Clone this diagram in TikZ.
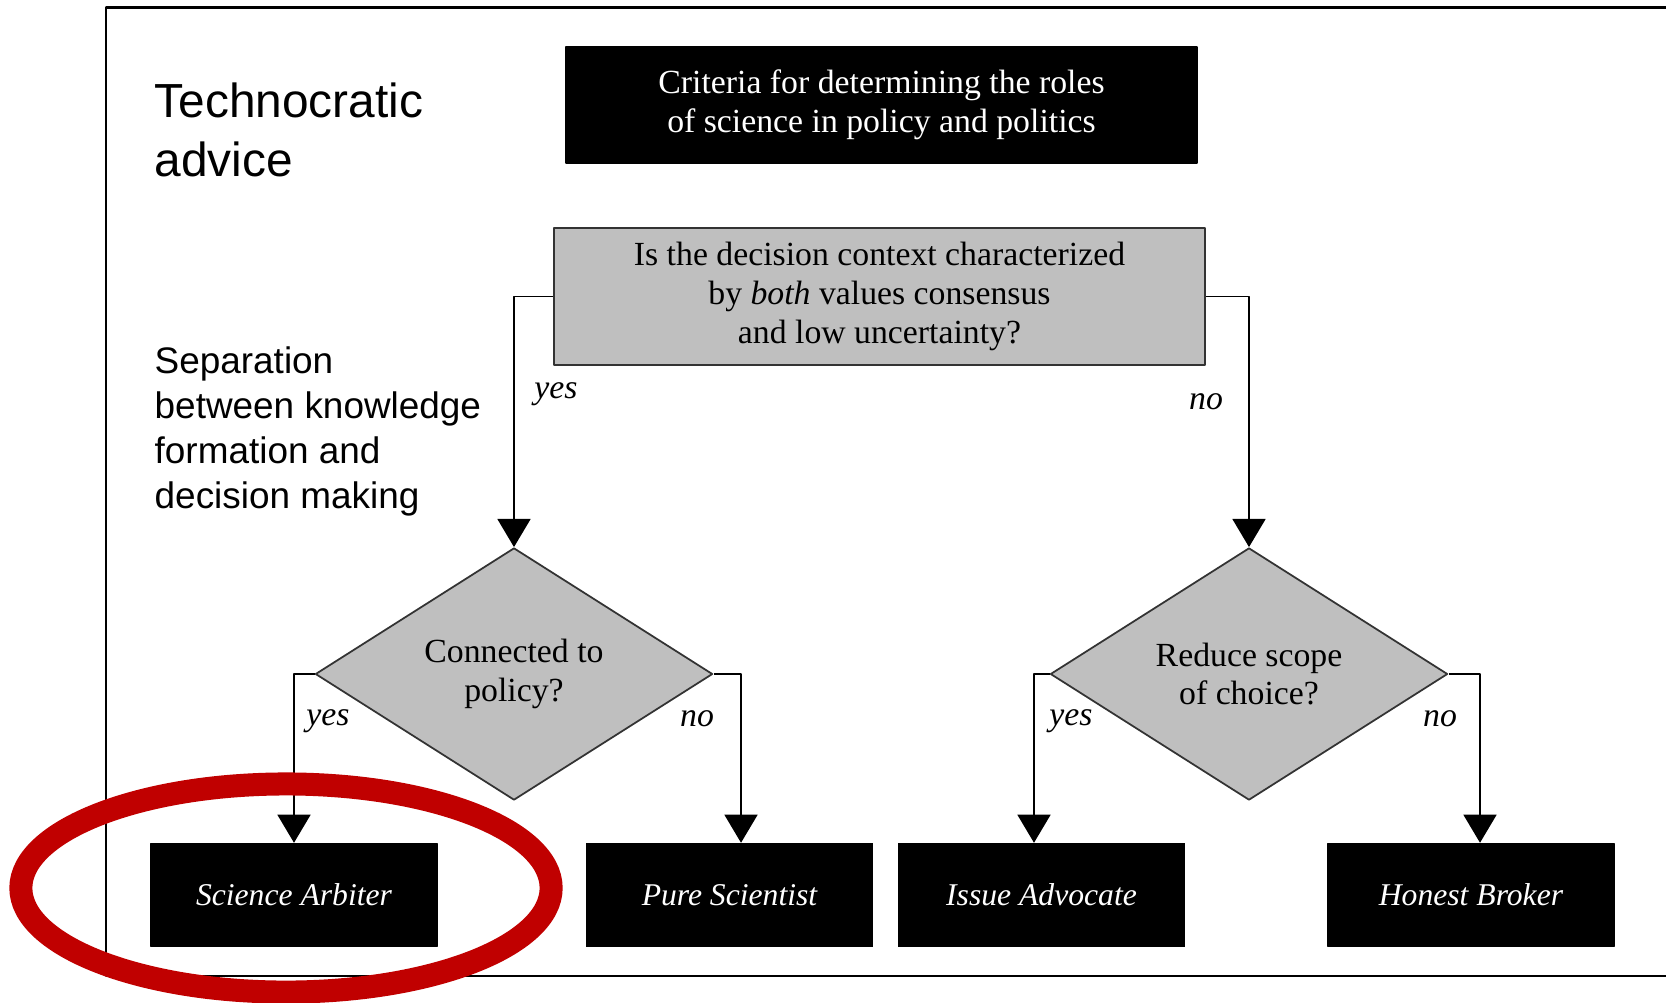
\documentclass[tikz,border=0pt]{standalone}
\usepackage{fontspec}
\setmainfont{Liberation Serif}
\newfontfamily\arialfont{Liberation Sans}
\usetikzlibrary{shapes.geometric,arrows.meta}
\definecolor{boxgray}{RGB}{191,191,191}
\definecolor{ringred}{RGB}{192,0,0}
\begin{document}
\begin{tikzpicture}[x=0.01cm, y=-0.01cm, font=\fontsize{9.6}{11}\selectfont, line join=round, >={Triangle[width=9.4pt,length=8pt]},
	blackbox/.style={draw=black, fill=black, text=white, inner sep=0pt, align=center},
	qbox/.style={draw=black!80, fill=boxgray, line width=0.6pt, inner sep=0pt, align=center, minimum width=6.51cm, minimum height=1.37cm},
	decision/.style={diamond, draw=black!80, fill=boxgray, line width=0.5pt, inner sep=0pt, align=center, minimum width=3.97cm, minimum height=2.52cm},
	role/.style={blackbox, font=\fontsize{9}{11}\selectfont\itshape, minimum width=2.86cm, minimum height=1.03cm},
	side/.style={anchor=west, inner sep=0pt, align=left},
	lbl/.style={font=\fontsize{9.6}{11}\selectfont\itshape, inner sep=0pt},
	link/.style={->, line width=0.45pt}]
	\useasboundingbox (0,0) rectangle (1666,1002);
	% frame
	\draw[line width=0.8pt] (1666,7.5) -- (106,7.5) -- (106,976) -- (1666,976);
	% side notes
	\node[side, font=\arialfont\fontsize{13.6}{16.8}\selectfont] (tech) at (154,130) {Technocratic\\advice};
	\node[side, font=\arialfont\fontsize{10.5}{12.8}\selectfont] (sep) at (154,431) {Separation\\between knowledge\\formation and\\decision making};
	% boxes
	\node[blackbox, minimum width=6.31cm, minimum height=1.16cm] (title) at (881.5,105) {Criteria for determining the roles\\of science in policy and politics};
	\node[qbox] (q) at (879.5,296.5) {Is the decision context characterized\\by \emph{both} values consensus\\and low uncertainty?};
	\node[decision] (d1) at (514,674) {Connected to\\policy?};
	\node[decision] (d2) at (1249,674) {Reduce scope\\of choice?};
	\foreach \n/\x/\t in {sa/294/Science Arbiter, ps/729.5/Pure Scientist, ia/1041.5/Issue Advocate, hb/1471/Honest Broker}{
		\node[role] (\n) at (\x,895) {\t};}
	% connectors
	\draw[link] (q.west) -| (d1.north);
	\draw[link] (q.east) -| (d2.north);
	\draw[link] (d1.west) -| (sa.north);
	\draw[link] (d1.east) -| ([xshift=0.115cm]ps.north);
	\draw[link] (d2.west) -| ([xshift=-0.075cm]ia.north);
	\draw[link] (d2.east) -| ([xshift=0.09cm]hb.north);
	\foreach \n/\p/\t in {y0/{556,394}/yes, n0/{1206,402}/no, y1/{328,721}/yes, n1/{697,719}/no, y2/{1071,721}/yes, n2/{1440,719}/no}{
		\node[lbl] (\n) at (\p) {\t};}
	% highlight
	\draw[ringred, line width=0.23cm] (286,888) ellipse [x radius=2.65cm, y radius=1.04cm];
\end{tikzpicture}
\end{document}
